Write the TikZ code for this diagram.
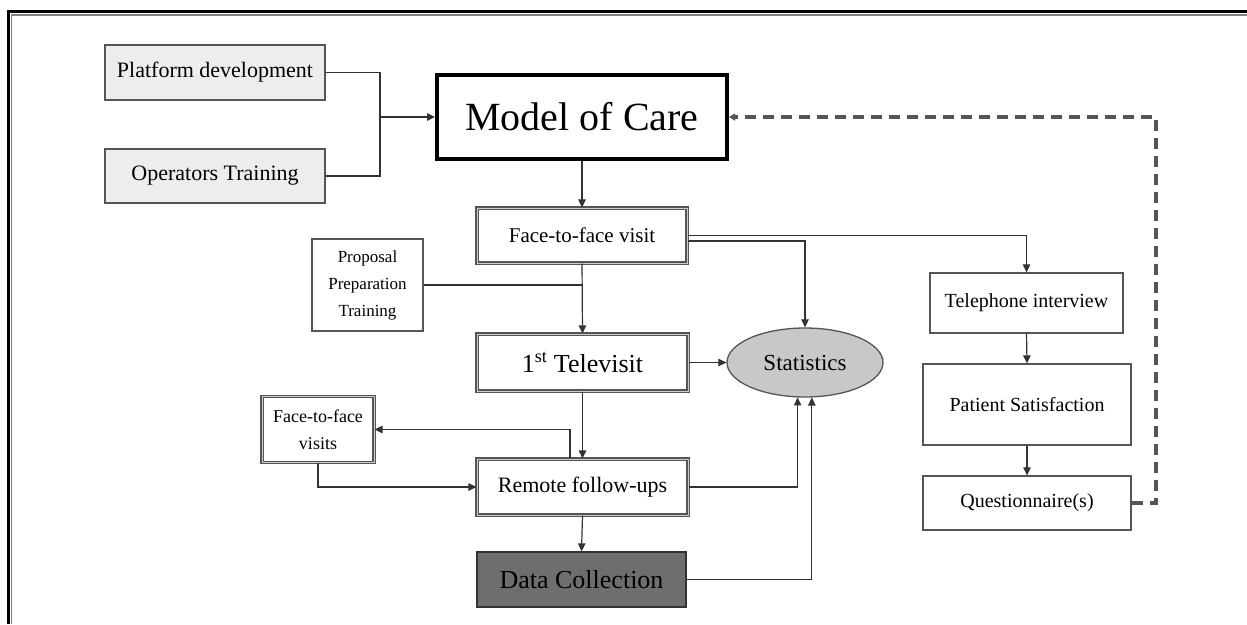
\documentclass[tikz,border=0pt]{standalone}
\usepackage{fontspec}
\setmainfont{Liberation Serif}
\usetikzlibrary{arrows.meta,shapes.geometric,calc}
\definecolor{edgegray}{HTML}{555555}
\definecolor{linegray}{HTML}{333333}
\definecolor{lightfill}{HTML}{EDEDED}
\definecolor{statfill}{HTML}{C8C8C8}
\definecolor{darkfill}{HTML}{6E6E6E}
\definecolor{dashgray}{HTML}{555555}
\newcommand{\fsz}[2]{\fontsize{#1}{#2}\selectfont}
\begin{document}
\begin{tikzpicture}[x=1pt,y=-1pt,
  box/.style={draw=edgegray, line width=1.3pt, rectangle, inner sep=0pt, align=center, text=black},
  dbox/.style={box, double=gray!40, double distance=1pt, line width=1.2pt},
  graybox/.style={box, fill=lightfill},
  arr/.style={draw=linegray, line width=1.2pt, -{Triangle[length=8pt,width=7.5pt]}},
  plain/.style={draw=linegray, line width=1.2pt},
  fb/.style={draw=dashgray, line width=3.2pt, dash pattern=on 11pt off 7pt,
             -{Triangle[length=6pt,width=7pt]}}
]
\useasboundingbox (0,0) rectangle (1247,624);
% outer frame (top and left)
\draw[line width=3pt] (7,11.7) -- (1247,11.7);
\draw[line width=1.4pt, gray] (11,14.9) -- (1247,14.9);
\draw[line width=3pt] (8.3,10.2) -- (8.3,624);
\draw[line width=1.4pt, gray] (11.5,14.9) -- (11.5,624);

% nodes
\node[graybox, minimum width=220pt, minimum height=55pt, font=\fsz{22}{26}] (plat) at (215,72.5) {Platform development};
\node[graybox, minimum width=220pt, minimum height=54pt, font=\fsz{22}{26}] (oper) at (215,176) {Operators Training};
\node[box, draw=black, line width=4pt, minimum width=290pt, minimum height=84pt, font=\fsz{40}{46}] (moc) at (582,117) {Model of Care};
\node[dbox, minimum width=210pt, minimum height=55pt, font=\fsz{21}{25}] (f2f) at (582,235.5) {Face-to-face visit};
\node[box, minimum width=111pt, minimum height=92pt, font=\fsz{17}{27}] (prop) at (367.5,285) {Proposal\\Preparation\\Training};
\node[dbox, minimum width=211pt, minimum height=57pt, font=\fsz{26}{30}] (tele1) at (582.5,362.5) {1\textsuperscript{st} Televisit};
\node[ellipse, draw=edgegray, line width=1.3pt, fill=statfill, minimum width=156pt, minimum height=69pt, inner sep=0pt, font=\fsz{23}{27}] (stat) at (805,362.5) {Statistics};
\node[dbox, minimum width=112pt, minimum height=66pt, font=\fsz{18}{27}] (ffv) at (318,429.5) {Face-to-face\\visits};
\node[dbox, minimum width=211pt, minimum height=56pt, font=\fsz{22}{26}] (rem) at (582.5,487) {Remote follow-ups};
\node[box, draw=linegray, fill=darkfill, minimum width=209pt, minimum height=55pt, font=\fsz{26}{30}] (data) at (581.5,579.5) {Data Collection};
\node[box, minimum width=193pt, minimum height=60pt, font=\fsz{20}{24}] (tel) at (1026.5,303) {Telephone interview};
\node[box, minimum width=208pt, minimum height=81pt, font=\fsz{20}{24}] (pat) at (1027,404.5) {Patient Satisfaction};
\node[box, minimum width=208pt, minimum height=54pt, font=\fsz{20}{24}] (que) at (1027,503) {Questionnaire(s)};

% joints
\coordinate (j1) at (380,117);
\coordinate (fbc) at (1156,117);

% connectors
\draw[plain] (plat.east) -| (j1);
\draw[plain] (oper.east) -| (j1);
\draw[arr] (j1) -- (moc.west);
\draw[arr] (moc.south) -- (f2f.north);
\draw[plain] (prop.east) -- (prop.east -| f2f.south);
\draw[arr] (f2f.south) -- (tele1.north);
\draw[arr] (tele1.east) -- (stat.west);
\draw[arr] (f2f.east) -| (tel.north);
\draw[arr] ([yshift=-5.5pt]f2f.east) -| (stat.north);
\draw[arr] (tele1.south) -- (rem.north);
\draw[arr] ([xshift=-12.5pt]rem.north) |- (ffv.east);
\draw[arr] (ffv.south) |- (rem.west);
\draw[arr] (rem.south) -- (data.north);
\draw[arr] (rem.east) -| (stat.258.5);
\draw[arr] (data.east) -| (stat.281.5);
\draw[arr] (tel.south) -- (pat.north);
\draw[arr] (pat.south) -- (que.north);
\draw[fb] (que.east) -| (fbc) -- (moc.east);
\end{tikzpicture}
\end{document}
